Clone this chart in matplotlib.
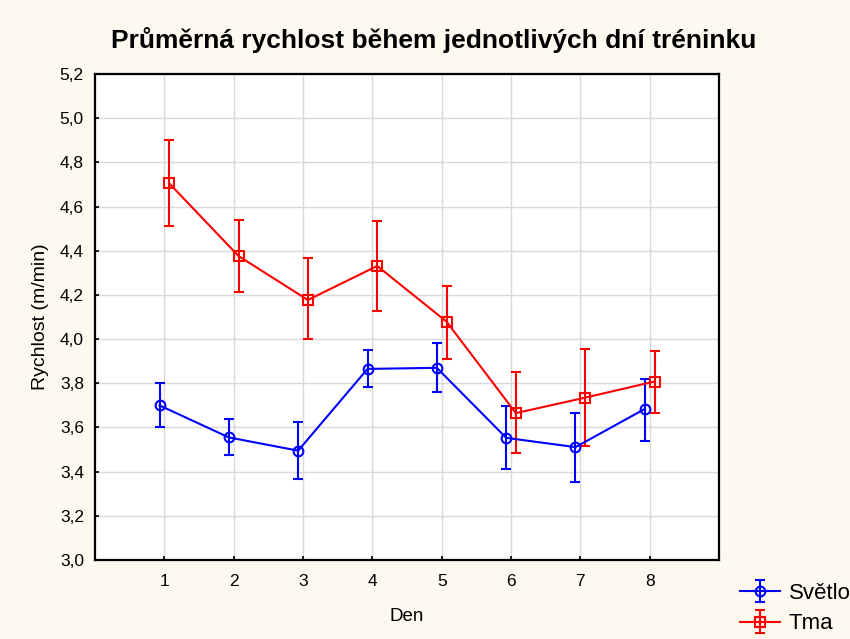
import numpy as np
import matplotlib.pyplot as plt

plt.rcParams['font.family'] = ['Liberation Sans', 'DejaVu Sans']

days = np.arange(1, 9)

svetlo = [3.70, 3.555, 3.495, 3.865, 3.87, 3.553, 3.511, 3.684]
svetlo_hi = [3.80, 3.639, 3.625, 3.951, 3.981, 3.698, 3.667, 3.821]
svetlo_lo = [3.60, 3.476, 3.369, 3.785, 3.760, 3.414, 3.355, 3.541]

tma = [4.705, 4.376, 4.177, 4.331, 4.079, 3.665, 3.735, 3.808]
tma_hi = [4.90, 4.54, 4.367, 4.535, 4.241, 3.85, 3.956, 3.945]
tma_lo = [4.51, 4.214, 4.001, 4.128, 3.912, 3.486, 3.518, 3.666]

bg = '#fdf9ef'
fig = plt.figure(figsize=(8.5, 6.39), dpi=100, facecolor=bg)
ax = fig.add_axes([0.1118, 0.1236, 0.7341, 0.7606])
ax.set_facecolor('white')

off = 0.07
s = np.array(svetlo)
t = np.array(tma)
s_err = [s - np.array(svetlo_lo), np.array(svetlo_hi) - s]
t_err = [t - np.array(tma_lo), np.array(tma_hi) - t]

ax.errorbar(days - off, s, yerr=s_err, color='#0000ff', marker='o', ms=7,
            mfc='none', mew=1.5, lw=1.5, capsize=3.5, capthick=1.5,
            elinewidth=1.5, label='Světlo', zorder=3)
ax.errorbar(days + off, t, yerr=t_err, color='#ff0000', marker='s', ms=7,
            mfc='none', mew=1.5, lw=1.5, capsize=3.5, capthick=1.5,
            elinewidth=1.5, label='Tma', zorder=3)

ax.set_xlim(0, 9)
ax.set_ylim(3.0, 5.2)
ax.set_xticks(days)
yt = np.arange(3.0, 5.21, 0.2)
ax.set_yticks(yt)
ax.set_yticklabels([f'{v:.1f}'.replace('.', ',') for v in yt])
ax.grid(True, color='#d9d9d9', lw=1)
ax.set_axisbelow(True)
ax.tick_params(direction='in', length=3, width=1.2, labelsize=12.5)
ax.tick_params(axis='y', pad=8)
ax.tick_params(axis='x', pad=10)
for sp in ax.spines.values():
    sp.set_linewidth(1.6)
    sp.set_color('black')

ax.set_xlabel('Den', fontsize=13.5, labelpad=14)
ax.set_ylabel('Rychlost (m/min)', fontsize=14, labelpad=8)
fig.text(0.5106, 1 - 48 / 639, 'Průměrná rychlost během jednotlivých dní tréninku',
         ha='center', va='baseline', fontsize=19, fontweight='bold')

leg = fig.legend(loc='lower right', bbox_to_anchor=(1.024, -0.024), frameon=False,
                 fontsize=16, handlelength=1.8, handletextpad=0.4, labelspacing=0.43)

fig.savefig('out.png', dpi=100, facecolor=bg)
